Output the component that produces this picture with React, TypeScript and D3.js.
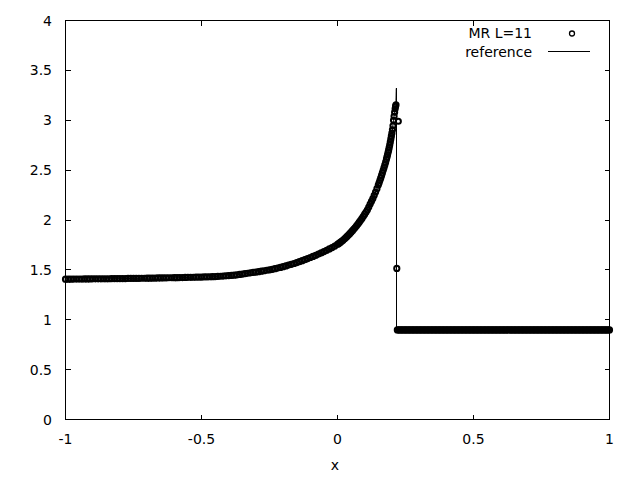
import React from "react";
import * as d3 from "d3";

// ---- data ----
const mrX: number[] = [
  -1.00, -0.99, -0.98, -0.97, -0.96, -0.95, -0.94, -0.93, -0.92, -0.91,
  -0.90, -0.89, -0.88, -0.87, -0.86, -0.85, -0.84, -0.83, -0.82, -0.81,
  -0.80, -0.79, -0.78, -0.77, -0.76, -0.75, -0.74, -0.73, -0.72, -0.71,
  -0.70, -0.69, -0.68, -0.67, -0.66, -0.65, -0.64, -0.63, -0.62, -0.61,
  -0.60, -0.59, -0.58, -0.57, -0.56, -0.55, -0.54, -0.53, -0.52, -0.51,
  -0.50, -0.49, -0.48, -0.47, -0.46, -0.45, -0.44, -0.43, -0.42, -0.41,
  -0.40, -0.39, -0.38, -0.37, -0.36, -0.35, -0.34, -0.33, -0.32, -0.31,
  -0.30, -0.29, -0.28, -0.27, -0.26, -0.25, -0.24, -0.23, -0.22, -0.21,
  -0.20, -0.19, -0.18, -0.17, -0.16, -0.15, -0.14, -0.13, -0.12, -0.11,
  -0.10, -0.09, -0.08, -0.07, -0.06, -0.05, -0.04, -0.03, -0.02, -0.01,
  0.000, 0.005, 0.010, 0.015, 0.020, 0.025, 0.030, 0.035, 0.040, 0.045,
  0.050, 0.055, 0.060, 0.065, 0.070, 0.075, 0.080, 0.085, 0.090, 0.095,
  0.100, 0.105, 0.110, 0.115, 0.120, 0.125, 0.130, 0.135, 0.140, 0.145,
  0.150, 0.153, 0.156, 0.159, 0.162, 0.165, 0.168, 0.171, 0.174, 0.177,
  0.180, 0.182, 0.184, 0.186, 0.188, 0.190, 0.192, 0.194, 0.196, 0.198,
  0.200, 0.202, 0.204, 0.206, 0.208, 0.210, 0.212, 0.2135, 0.215,
  0.218, 0.2235,
  0.220, 0.225, 0.230, 0.235, 0.240, 0.245, 0.250, 0.255, 0.260, 0.265,
  0.270, 0.275, 0.280, 0.285, 0.290, 0.295, 0.300, 0.305, 0.310, 0.315,
  0.320, 0.325, 0.330, 0.335, 0.340, 0.345, 0.350, 0.355, 0.360, 0.365,
  0.370, 0.375, 0.380, 0.385, 0.390, 0.395, 0.400, 0.405, 0.410, 0.415,
  0.420, 0.425, 0.430, 0.435, 0.440, 0.445, 0.450, 0.455, 0.460, 0.465,
  0.470, 0.475, 0.480, 0.485, 0.490, 0.495, 0.500, 0.505, 0.510, 0.515,
  0.520, 0.525, 0.530, 0.535, 0.540, 0.545, 0.550, 0.555, 0.560, 0.565,
  0.570, 0.575, 0.580, 0.585, 0.590, 0.595, 0.600, 0.605, 0.610, 0.615,
  0.620, 0.625, 0.630, 0.635, 0.640, 0.645, 0.650, 0.655, 0.660, 0.665,
  0.670, 0.675, 0.680, 0.685, 0.690, 0.695, 0.700, 0.705, 0.710, 0.715,
  0.720, 0.725, 0.730, 0.735, 0.740, 0.745, 0.750, 0.755, 0.760, 0.765,
  0.770, 0.775, 0.780, 0.785, 0.790, 0.795, 0.800, 0.805, 0.810, 0.815,
  0.820, 0.825, 0.830, 0.835, 0.840, 0.845, 0.850, 0.855, 0.860, 0.865,
  0.870, 0.875, 0.880, 0.885, 0.890, 0.895, 0.900, 0.905, 0.910, 0.915,
  0.920, 0.925, 0.930, 0.935, 0.940, 0.945, 0.950, 0.955, 0.960, 0.965,
  0.970, 0.975, 0.980, 0.985, 0.990, 0.995, 1.000,
];

const mrY: number[] = [
  1.407, 1.407, 1.407, 1.408, 1.408, 1.408, 1.408, 1.409, 1.409, 1.409,
  1.410, 1.410, 1.410, 1.410, 1.411, 1.411, 1.411, 1.412, 1.412, 1.412,
  1.413, 1.413, 1.413, 1.414, 1.414, 1.414, 1.415, 1.415, 1.416, 1.416,
  1.417, 1.417, 1.418, 1.418, 1.419, 1.419, 1.420, 1.420, 1.421, 1.421,
  1.422, 1.422, 1.423, 1.423, 1.424, 1.425, 1.425, 1.426, 1.427, 1.427,
  1.428, 1.429, 1.430, 1.431, 1.432, 1.433, 1.435, 1.436, 1.438, 1.440,
  1.442, 1.444, 1.447, 1.450, 1.454, 1.458, 1.462, 1.466, 1.470, 1.474,
  1.478, 1.482, 1.487, 1.491, 1.496, 1.500, 1.506, 1.512, 1.518, 1.525,
  1.532, 1.540, 1.548, 1.556, 1.564, 1.573, 1.582, 1.592, 1.602, 1.613,
  1.624, 1.635, 1.646, 1.658, 1.670, 1.683, 1.696, 1.710, 1.724, 1.739,
  1.755, 1.765, 1.775, 1.786, 1.797, 1.809, 1.822, 1.835, 1.849, 1.863,
  1.878, 1.893, 1.909, 1.925, 1.942, 1.960, 1.978, 1.997, 2.016, 2.037,
  2.058, 2.080, 2.103, 2.130, 2.160, 2.187, 2.215, 2.247, 2.280, 2.314,
  2.350, 2.373, 2.398, 2.422, 2.447, 2.472, 2.498, 2.525, 2.552, 2.580,
  2.610, 2.632, 2.654, 2.677, 2.700, 2.725, 2.752, 2.780, 2.810, 2.840,
  2.870, 2.905, 2.945, 3.000, 3.040, 3.080, 3.115, 3.140, 3.155,
  1.515, 2.990,
  0.898, 0.898, 0.898, 0.898, 0.898, 0.898, 0.898, 0.898, 0.898, 0.898,
  0.898, 0.898, 0.898, 0.898, 0.898, 0.898, 0.898, 0.898, 0.898, 0.898,
  0.898, 0.898, 0.898, 0.898, 0.898, 0.898, 0.898, 0.898, 0.898, 0.898,
  0.898, 0.898, 0.898, 0.898, 0.898, 0.898, 0.898, 0.898, 0.898, 0.898,
  0.898, 0.898, 0.898, 0.898, 0.898, 0.898, 0.898, 0.898, 0.898, 0.898,
  0.898, 0.898, 0.898, 0.898, 0.898, 0.898, 0.898, 0.898, 0.898, 0.898,
  0.898, 0.898, 0.898, 0.898, 0.898, 0.898, 0.898, 0.898, 0.898, 0.898,
  0.898, 0.898, 0.898, 0.898, 0.898, 0.898, 0.898, 0.898, 0.898, 0.898,
  0.898, 0.898, 0.898, 0.898, 0.898, 0.898, 0.898, 0.898, 0.898, 0.898,
  0.898, 0.898, 0.898, 0.898, 0.898, 0.898, 0.898, 0.898, 0.898, 0.898,
  0.898, 0.898, 0.898, 0.898, 0.898, 0.898, 0.898, 0.898, 0.898, 0.898,
  0.898, 0.898, 0.898, 0.898, 0.898, 0.898, 0.898, 0.898, 0.898, 0.898,
  0.898, 0.898, 0.898, 0.898, 0.898, 0.898, 0.898, 0.898, 0.898, 0.898,
  0.898, 0.898, 0.898, 0.898, 0.898, 0.898, 0.898, 0.898, 0.898, 0.898,
  0.898, 0.898, 0.898, 0.898, 0.898, 0.898, 0.898, 0.898, 0.898, 0.898,
  0.898, 0.898, 0.898, 0.898, 0.898, 0.898, 0.898,
];

const refX: number[] = [
  -1.0, -0.75, -0.5, -0.4, -0.35, -0.3, -0.25, -0.2, -0.15, -0.1, -0.05,
  0.0, 0.05, 0.1, 0.13, 0.15, 0.17, 0.18, 0.19, 0.2, 0.206, 0.21, 0.2135,
  0.215, 0.216, 0.216, 1.0,
];
const refY: number[] = [
  1.407, 1.414, 1.428, 1.442, 1.458, 1.478, 1.5, 1.532, 1.573, 1.624, 1.683,
  1.755, 1.878, 2.058, 2.215, 2.35, 2.515, 2.61, 2.725, 2.87, 3.0, 3.08, 3.14,
  3.2, 3.32, 0.898, 0.898,
];

const xTicks: number[] = [-1, -0.5, 0, 0.5, 1];
const xTickLabels: string[] = ["-1", "-0.5", "0", "0.5", "1"];
const yTicks: number[] = [0, 0.5, 1, 1.5, 2, 2.5, 3, 3.5, 4];
const yTickLabels: string[] = ["0", "0.5", "1", "1.5", "2", "2.5", "3", "3.5", "4"];

const seriesNames: string[] = ["MR L=11", "reference"];
const xAxisLabel = "x";

export default function App() {
  const W = 640;
  const H = 480;
  const left = 65.5;
  const right = 609.5;
  const top = 20.5;
  const bottom = 419.5;

  const x = d3.scaleLinear().domain([-1, 1]).range([left, right]);
  const y = d3.scaleLinear().domain([0, 4]).range([bottom, top]);

  const refPts: [number, number][] = refX.map((v, i) => [v, refY[i]]);
  const jumpIdx = refX.findIndex((v, i) => i > 0 && v === refX[i - 1]);
  const refPath1 =
    d3
      .line<[number, number]>()
      .x((d) => x(d[0]))
      .y((d) => y(d[1]))
      .curve(d3.curveMonotoneX)(refPts.slice(0, jumpIdx)) || "";
  const refPath2 =
    d3
      .line<[number, number]>()
      .x((d) => x(d[0]))
      .y((d) => y(d[1]))(refPts.slice(jumpIdx - 1)) || "";

  const font = "'DejaVu Sans', Verdana, sans-serif";
  const tick = 5;

  return (
    <svg
      width={W}
      height={H}
      style={{ position: "absolute", left: 0, top: 0, background: "#fff" }}
      fontFamily={font}
      fontSize={14}
    >
      <rect x={0} y={0} width={W} height={H} fill="#fff" />

      {/* ticks */}
      <g stroke="#000" strokeWidth={1} shapeRendering="crispEdges">
        {yTicks.map((t) => (
          <g key={"yt" + t}>
            <line x1={left} x2={left + tick} y1={y(t)} y2={y(t)} />
            <line x1={right} x2={right - tick} y1={y(t)} y2={y(t)} />
          </g>
        ))}
        {xTicks.map((t) => (
          <g key={"xt" + t}>
            <line x1={x(t)} x2={x(t)} y1={bottom} y2={bottom - tick} />
            <line x1={x(t)} x2={x(t)} y1={top} y2={top + tick} />
          </g>
        ))}
      </g>

      {/* tick labels */}
      {yTicks.map((t, i) => (
        <text key={"yl" + t} x={52} y={y(t) + 5} textAnchor="end" fill="#000">
          {yTickLabels[i]}
        </text>
      ))}
      {xTicks.map((t, i) => (
        <text key={"xl" + t} x={x(t)} y={443.5} textAnchor="middle" fill="#000">
          {xTickLabels[i]}
        </text>
      ))}
      <text x={335} y={470} textAnchor="middle" fill="#000">
        {xAxisLabel}
      </text>

      {/* reference line */}
      <path d={refPath1} fill="none" stroke="#000" strokeWidth={1} />
      <path d={refPath2} fill="none" stroke="#000" strokeWidth={1} shapeRendering="crispEdges" />

      {/* MR points */}
      <g fill="none" stroke="#000" strokeWidth={2}>
        {mrX.map((v, i) => (
          <circle key={"p" + i} cx={x(v)} cy={y(mrY[i])} r={2.6} />
        ))}
      </g>

      {/* border */}
      <rect
        x={left}
        y={top}
        width={right - left}
        height={bottom - top}
        fill="none"
        stroke="#000"
        strokeWidth={1}
        shapeRendering="crispEdges"
      />

      {/* legend */}
      <text x={532} y={38} textAnchor="end" fill="#000">
        {seriesNames[0]}
      </text>
      <circle cx={572} cy={33.5} r={2.5} fill="none" stroke="#000" strokeWidth={1.3} />
      <text x={532} y={57} textAnchor="end" fill="#000">
        {seriesNames[1]}
      </text>
      <line x1={548} x2={590} y1={51.5} y2={51.5} stroke="#000" strokeWidth={1} shapeRendering="crispEdges" />
    </svg>
  );
}
